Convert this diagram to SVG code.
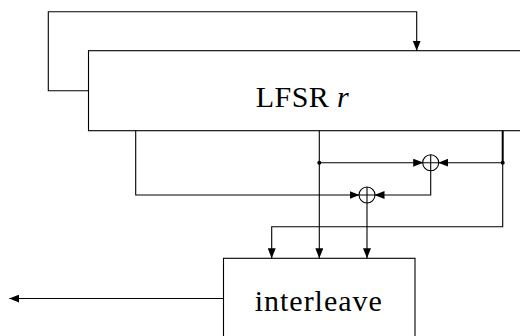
<svg xmlns="http://www.w3.org/2000/svg" width="520" height="336" viewBox="0 0 520 336">
<style>
.box{fill:#fff;stroke:#000;stroke-width:1.1}
.ln{fill:none;stroke:#000;stroke-width:1.1}
.xor{fill:#fff;stroke:#000;stroke-width:1.1}
.lbl{font-size:30px;fill:#000}
</style>
<defs>
<marker id="ah" viewBox="0 0 10 8" markerWidth="10" markerHeight="8" refX="10" refY="4" orient="auto" markerUnits="userSpaceOnUse">
<path d="M0,0 L10,4 L0,8 z" fill="#000"/>
</marker>
</defs>
<g id="lfsr">
<rect class="box" x="88.5" y="50.7" width="445" height="80"/>
<text class="lbl" font-family="'Liberation Serif', 'Times New Roman', serif" x="302.3" y="106.7" text-anchor="middle" textLength="93">LFSR <tspan font-style="italic">r</tspan></text>
</g>
<g id="interleave">
<rect class="box" x="223.5" y="258.3" width="191.5" height="100"/>
<text class="lbl" font-family="'Liberation Serif', 'Times New Roman', serif" x="318.3" y="311" text-anchor="middle" textLength="127">interleave</text>
</g>
<g id="connectors">
<polyline class="ln" points="88.5,90.7 48.3,90.7 48.3,11.7 416.7,11.7 416.7,50.7" marker-end="url(#ah)"/>
<polyline class="ln" points="135.7,130.7 135.7,195 359.5,195" marker-end="url(#ah)"/>
<line class="ln" x1="319.3" y1="130.7" x2="319.3" y2="258.3" marker-end="url(#ah)"/>
<line class="ln" x1="319.3" y1="162.7" x2="423.2" y2="162.7" marker-end="url(#ah)"/>
<line class="ln" x1="502.7" y1="130.7" x2="502.7" y2="162.7" style="stroke-width:2"/>
<line class="ln" x1="502.7" y1="162.7" x2="438.2" y2="162.7" marker-end="url(#ah)"/>
<polyline class="ln" points="502.7,162.7 502.7,226.7 271.7,226.7 271.7,258.3" marker-end="url(#ah)"/>
<polyline class="ln" points="430.7,170.2 430.7,195 374.5,195" marker-end="url(#ah)"/>
<line class="ln" x1="367" y1="202.5" x2="367" y2="258.3" marker-end="url(#ah)"/>
<line class="ln" x1="223.5" y1="298.5" x2="9.3" y2="298.5" marker-end="url(#ah)"/>
<circle cx="319.3" cy="162.7" r="2" fill="#000"/>
<circle cx="502.7" cy="162.7" r="2" fill="#000"/>
</g>
<g id="xor1">
<circle class="xor" cx="430.7" cy="162.7" r="8"/>
<path class="ln" d="M422.7,162.7 H438.7 M430.7,154.7 V170.7"/>
</g>
<g id="xor2">
<circle class="xor" cx="367" cy="195" r="8"/>
<path class="ln" d="M359,195 H375 M367,187 V203"/>
</g>
</svg>
